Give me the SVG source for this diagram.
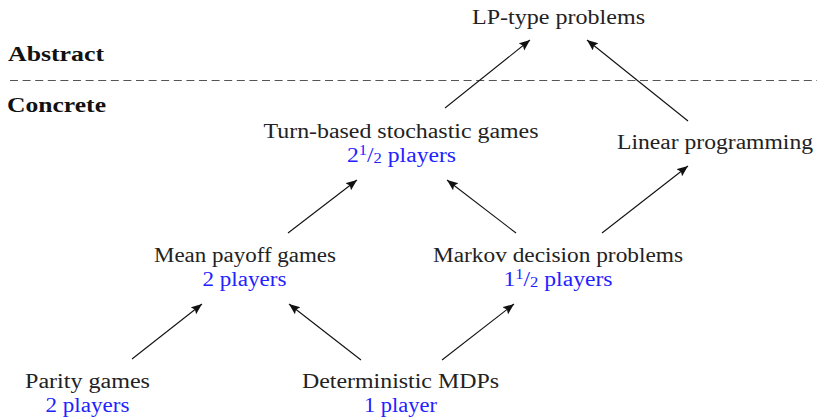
<svg xmlns="http://www.w3.org/2000/svg" width="817" height="417" viewBox="0 0 817 417">
  <defs>
    <marker id="arrow" markerUnits="userSpaceOnUse" markerWidth="12" markerHeight="10" refX="11" refY="4.5" orient="auto">
      <path d="M0,0 L11,4.5 L0,9 L2,4.5 z" fill="#111"/>
    </marker>
    <style>
      .t { font-family: 'Liberation Serif', serif; font-size: 20px; fill: #222; text-anchor: middle; }
      .sub { fill: #2222ff; }
      .layer { font-weight: bold; text-anchor: start; fill: #111; }
      .edge { stroke: #111; stroke-width: 1.1; fill: none; marker-end: url(#arrow); }
      .frac { font-size: 14px; }
    </style>
  </defs>

  <rect width="817" height="417" fill="#fff"/>

  <!-- layer separator -->
  <g id="layers">
    <text class="t layer" x="8" y="61" textLength="96" lengthAdjust="spacingAndGlyphs">Abstract</text>
    <line x1="10" y1="80.5" x2="817" y2="80.5" stroke="#555" stroke-width="1.2" stroke-dasharray="8,4.6"/>
    <text class="t layer" x="7" y="112" textLength="99" lengthAdjust="spacingAndGlyphs">Concrete</text>
  </g>

  <!-- connectors -->
  <g id="edges">
    <line class="edge" x1="445" y1="108" x2="530" y2="40"/>
    <line class="edge" x1="688" y1="121" x2="587" y2="40"/>
    <line class="edge" x1="288" y1="233" x2="357" y2="180"/>
    <line class="edge" x1="516" y1="233" x2="447" y2="180"/>
    <line class="edge" x1="602" y1="233" x2="688" y2="166"/>
    <line class="edge" x1="132" y1="359" x2="202" y2="304"/>
    <line class="edge" x1="361" y1="360" x2="289" y2="304"/>
    <line class="edge" x1="442" y1="360" x2="514" y2="304"/>
  </g>

  <!-- nodes -->
  <g id="lp-type">
    <text class="t" x="558.5" y="24" textLength="173" lengthAdjust="spacingAndGlyphs">LP-type problems</text>
  </g>
  <g id="turn-based">
    <text class="t" x="401" y="138" textLength="275" lengthAdjust="spacingAndGlyphs">Turn-based stochastic games</text>
    <text class="t sub" x="401.5" y="162" textLength="109" lengthAdjust="spacingAndGlyphs">2<tspan class="frac" dy="-7">1</tspan><tspan dy="7">/</tspan><tspan class="frac" dy="1">2</tspan><tspan dy="-1"> players</tspan></text>
  </g>
  <g id="linear-programming">
    <text class="t" x="715" y="149" textLength="196" lengthAdjust="spacingAndGlyphs">Linear programming</text>
  </g>
  <g id="mean-payoff">
    <text class="t" x="245" y="262" textLength="182" lengthAdjust="spacingAndGlyphs">Mean payoff games</text>
    <text class="t sub" x="244.5" y="286" textLength="84" lengthAdjust="spacingAndGlyphs">2 players</text>
  </g>
  <g id="mdp">
    <text class="t" x="558" y="262" textLength="250" lengthAdjust="spacingAndGlyphs">Markov decision problems</text>
    <text class="t sub" x="558" y="286" textLength="109" lengthAdjust="spacingAndGlyphs">1<tspan class="frac" dy="-7">1</tspan><tspan dy="7">/</tspan><tspan class="frac" dy="1">2</tspan><tspan dy="-1"> players</tspan></text>
  </g>
  <g id="parity">
    <text class="t" x="87.5" y="388" textLength="125" lengthAdjust="spacingAndGlyphs">Parity games</text>
    <text class="t sub" x="87.5" y="412" textLength="84" lengthAdjust="spacingAndGlyphs">2 players</text>
  </g>
  <g id="deterministic-mdp">
    <text class="t" x="400.5" y="388" textLength="197" lengthAdjust="spacingAndGlyphs">Deterministic MDPs</text>
    <text class="t sub" x="400.5" y="412" textLength="73" lengthAdjust="spacingAndGlyphs">1 player</text>
  </g>
</svg>
